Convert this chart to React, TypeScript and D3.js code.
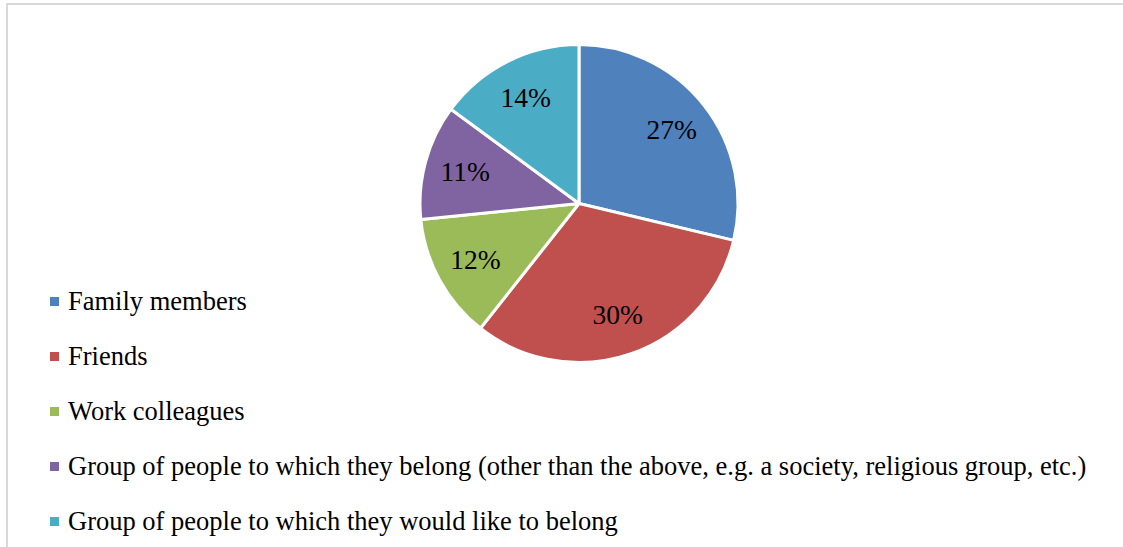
import React from "react";
import * as d3 from "d3";

const categories = [
  "Family members",
  "Friends",
  "Work colleagues",
  "Group of people to which they belong (other than the above, e.g. a society, religious group, etc.)",
  "Group of people to which they would like to belong",
];
const values = [27, 30, 12, 11, 14];
const colors = ["#4F81BD", "#C0504D", "#9BBB59", "#8064A2", "#4BACC6"];

const W = 1123;
const H = 547;
const CX = 579;
const CY = 203.5;
const R = 159;
const LABEL_R = 118;
const FONT = "'Liberation Serif', 'Times New Roman', serif";

export default function App() {
  const data = categories.map((c, i) => ({ name: c, value: values[i], color: colors[i] }));
  const pie = d3.pie<any>().value((d: any) => d.value).sort(null);
  const arcs = pie(data);
  const arc = d3.arc<any>().innerRadius(0).outerRadius(R);
  const labelArc = d3.arc<any>().innerRadius(LABEL_R).outerRadius(LABEL_R);
  const legendY = d3.scaleLinear().domain([0, 1]).range([310, 365]);

  return (
    <svg
      width={W}
      height={H}
      style={{ position: "absolute", left: 0, top: 0, background: "#fff" }}
      fontFamily={FONT}
    >
      <rect x={0} y={0} width={W} height={H} fill="#fff" />
      <rect x={7} y={4} width={W + 50} height={H + 50} fill="none" stroke="#d9d9d9" strokeWidth={2} />
      <g transform={`translate(${CX},${CY})`}>
        {arcs.map((a, i) => (
          <path key={i} d={arc(a) as string} fill={a.data.color} stroke="#fff" strokeWidth={3} strokeLinejoin="round" />
        ))}
        {arcs.map((a, i) => {
          const [x, y] = labelArc.centroid(a);
          return (
            <text key={"l" + i} x={x} y={y + 9} textAnchor="middle" fontSize={27.5} fill="#000">
              {a.data.value}%
            </text>
          );
        })}
      </g>
      {data.map((d, i) => (
        <g key={"lg" + i}>
          <rect x={50} y={legendY(i) - 13} width={9} height={9} fill={d.color} />
          <text x={68} y={legendY(i)} fontSize={26.5} fill="#000">
            {d.name}
          </text>
        </g>
      ))}
    </svg>
  );
}
